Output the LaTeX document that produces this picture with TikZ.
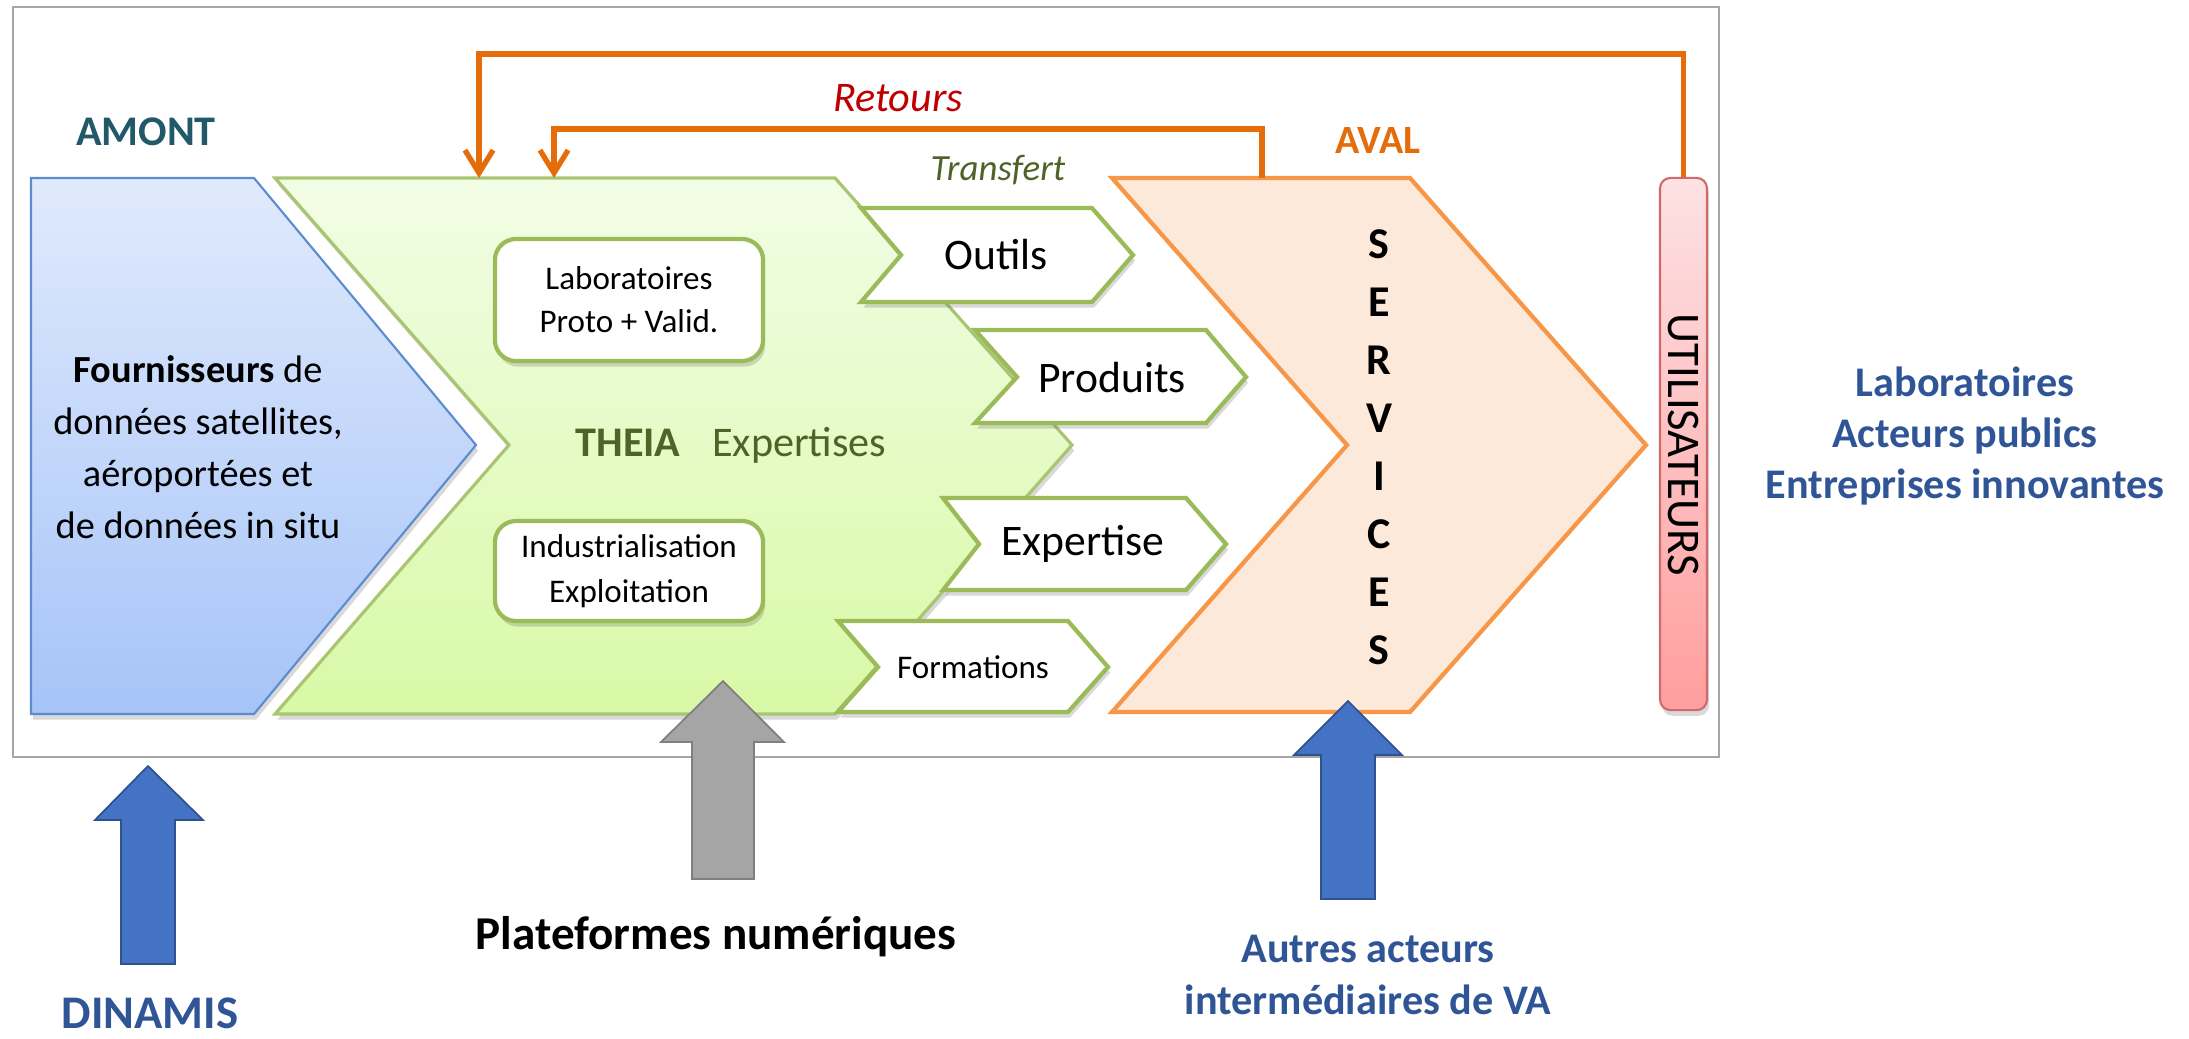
\documentclass[tikz,border=0pt]{standalone}
\usepackage{fontspec}
\setmainfont{Carlito}
\usepackage{tikz}
\usetikzlibrary{arrows.meta,shadows,positioning}
\usepackage{xcolor}
\definecolor{amontteal}{HTML}{215968}
\definecolor{amontline}{HTML}{5B8BD0}
\definecolor{amonttop}{HTML}{E0EAFC}
\definecolor{amontbot}{HTML}{A6C4F8}
\definecolor{theiatop}{HTML}{F2FDE6}
\definecolor{theiabot}{HTML}{D8F9A6}
\definecolor{theiagreen}{HTML}{4F6228}
\definecolor{chevgreen}{HTML}{9BBB59}
\definecolor{avalorange}{HTML}{E46C0A}
\definecolor{retourred}{HTML}{C00000}
\definecolor{servborder}{HTML}{F79646}
\definecolor{servfill}{HTML}{FDE9D9}
\definecolor{usertop}{HTML}{FDE2E4}
\definecolor{userbot}{HTML}{FF9E9E}
\definecolor{userline}{HTML}{D06A6A}
\definecolor{actorblue}{HTML}{2F5597}
\definecolor{arrowblue}{HTML}{4472C4}
\definecolor{arrowblueline}{HTML}{2F528F}
\definecolor{arrowgray}{HTML}{A5A5A5}
\definecolor{arrowgrayline}{HTML}{7F7F7F}
\definecolor{framegray}{HTML}{A6A6A6}

\begin{document}
\begin{tikzpicture}[x=0.01cm, y=-0.01cm,
    softshadow/.style={drop shadow={shadow xshift=0.6pt, shadow yshift=-1.6pt, opacity=0.25, fill=black!60}},
    amontshape/.style={draw=amontline, line width=0.6pt, top color=amonttop, bottom color=amontbot, softshadow},
    theiashape/.style={draw=chevgreen!85, line width=0.9pt, top color=theiatop, bottom color=theiabot, softshadow},
    outbox/.style={draw=chevgreen, line width=1.2pt, fill=white, softshadow},
    labbox/.style={draw=chevgreen, line width=1.2pt, fill=white, rounded corners=6pt, minimum width=2.68cm, align=center, inner sep=0pt, softshadow},
    servshape/.style={draw=servborder, line width=1.2pt, fill=servfill},
    userbar/.style={draw=userline, line width=0.6pt, top color=usertop, bottom color=userbot, rounded corners=3pt, minimum width=0.47cm, minimum height=5.32cm, inner sep=0pt, softshadow},
    retour/.style={avalorange, line width=1.5pt, -{Straight Barb[length=6.5pt,width=8pt]}},
    bluearrow/.style={draw=arrowblueline, line width=0.5pt, fill=arrowblue},
    grayarrow/.style={draw=arrowgrayline, line width=0.5pt, fill=arrowgray},
    outtext/.style={font=\fontsize{12.4}{15}\selectfont, inner sep=0pt},
    smalltext/.style={font=\fontsize{9.4}{12.4}\selectfont, inner sep=0pt, align=center},
    actortext/.style={font=\fontsize{12}{14.6}\selectfont\bfseries, text=actorblue, align=center, inner sep=0pt}
]
\useasboundingbox (0,0) rectangle (2189,1038);

\draw[framegray, line width=0.6pt] (13,7) rectangle (1719,757);

% amont
\draw[amontshape] (31,178) -- (254,178) -- (476,445) -- (254,714) -- (31,714) -- cycle;
\node[font=\fontsize{10.9}{14.8}\selectfont, align=center, inner sep=0pt] (fourn) at (198,447)
    {\textbf{Fournisseurs} de\\données satellites,\\aéroportées et\\de données in situ};
\node[font=\fontsize{12}{14}\selectfont\bfseries, text=amontteal, inner sep=0pt] (amont) at (146,132) {AMONT};

% theia
\draw[theiashape] (275,178) -- (835,178) -- (1072,445) -- (835,714) -- (275,714) -- (509,445) -- cycle;
\coordinate (retin1) at (479,178);
\coordinate (retin2) at (554,178);
\node[labbox, minimum height=1.22cm, font=\fontsize{9.4}{12.2}\selectfont] (labo) at (629,300) {Laboratoires\\Proto + Valid.};
\node[labbox, minimum height=1.00cm, font=\fontsize{9.4}{12.7}\selectfont] (indus) at (629,571) {Industrialisation\\Exploitation};
\node[font=\fontsize{12}{14}\selectfont, text=theiagreen, inner sep=0pt] (theia) at (731,445) {\textbf{THEIA}\hspace{9pt}Expertises};
\node[font=\fontsize{10.5}{13}\selectfont\itshape, text=theiagreen, inner sep=0pt] (transf) at (998,170) {Transfert};

\draw[outbox] (861,208) -- (1092,208) -- (1133,255) -- (1092,302) -- (861,302) -- (901,255) -- cycle;
\node[outtext] (outils) at (996,255) {Outils};
\draw[outbox] (975,330) -- (1206,330) -- (1246,377) -- (1206,423) -- (975,423) -- (1017,377) -- cycle;
\node[outtext] (produits) at (1112,377) {Produits};
\draw[outbox] (943,498) -- (1186,498) -- (1226,544) -- (1186,590) -- (943,590) -- (979,544) -- cycle;
\node[outtext] (expertise) at (1083,544) {Expertise};
\draw[outbox] (838,621) -- (1068,621) -- (1108,667) -- (1068,712) -- (838,712) -- (878,667) -- cycle;
\node[smalltext] (formations) at (973,667) {Formations};

% aval
\draw[servshape] (1112,178) -- (1410,178) -- (1646,445) -- (1410,712) -- (1112,712) -- (1347,445) -- cycle;
\coordinate (servtop) at (1262,178);
\node[font=\fontsize{12.5}{16.5}\selectfont\bfseries, align=center, inner sep=0pt] (services) at (1379,447)
    {S\\E\\R\\V\\I\\C\\E\\S};
\node[font=\fontsize{11.4}{14}\selectfont\bfseries, text=avalorange, inner sep=0pt] (aval) at (1378,140) {AVAL};

\node[userbar] (util) at (1683.5,444) {};
\node[rotate=-90, font=\fontsize{13.3}{16}\selectfont, inner sep=0pt] (utiltxt) at (1683.5,445) {UTILISATEURS};

% retours
\coordinate (bendlow) at (554,129);
\coordinate (bendhigh) at (479,54);
\draw[retour] (servtop) |- (bendlow) -- (retin2);
\draw[retour] (util.north) |- (bendhigh) -- (retin1);
\node[font=\fontsize{12}{14}\selectfont\itshape, text=retourred, inner sep=0pt] (retours) at (898,98) {Retours};

% acteurs
\node[actortext] (users) at (1965,436) {Laboratoires\\Acteurs publics\\Entreprises innovantes};

\draw[bluearrow] (148,766) -- (203,820) -- (175,820) -- (175,964) -- (121,964) -- (121,820) -- (95,820) -- cycle;
\node[font=\fontsize{13.3}{16}\selectfont\bfseries, text=actorblue, inner sep=0pt] (dinamis) at (150,1013) {DINAMIS};

\draw[grayarrow] (723,681) -- (784,742) -- (754,742) -- (754,879) -- (692,879) -- (692,742) -- (661,742) -- cycle;
\node[font=\fontsize{13.4}{16}\selectfont\bfseries, inner sep=0pt] (plateformes) at (716,937) {Plateformes numériques};

\draw[bluearrow] (1348,701) -- (1402,755) -- (1375,755) -- (1375,899) -- (1321,899) -- (1321,755) -- (1294,755) -- cycle;
\node[actortext, font=\fontsize{12}{14.8}\selectfont\bfseries] (autres) at (1368,975) {Autres acteurs\\intermédiaires de VA};

\end{tikzpicture}
\end{document}
